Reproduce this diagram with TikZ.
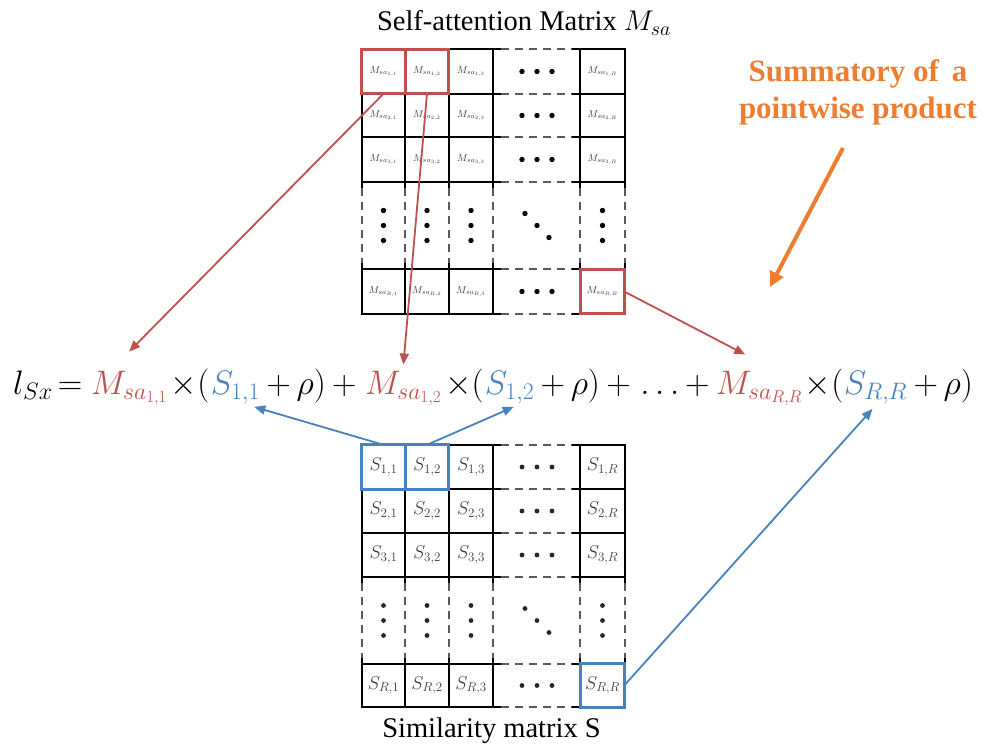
\RequirePackage{fix-cm}
\documentclass[tikz,border=0pt]{standalone}
\usepackage{fontspec}
\setmainfont{Liberation Serif}
\usetikzlibrary{arrows.meta}
\definecolor{mred}{RGB}{192,80,77}
\definecolor{mblue}{RGB}{70,130,190}
\definecolor{morange}{RGB}{237,125,49}
\definecolor{celltxt}{RGB}{60,60,60}
\tikzset{
  gsolid/.style={line width=2pt, draw=black},
  gdash/.style={line width=1.2pt, draw=black!65, dash pattern=on 8pt off 6pt},
  tcell/.style={inner sep=0pt, minimum width=43pt, minimum height=44pt, text=celltxt, font=\fontsize{10}{11}\selectfont},
  scell/.style={inner sep=0pt, minimum width=43pt, minimum height=44pt, text=celltxt, font=\fontsize{18.5}{20}\selectfont},
  eq/.style={anchor=base west, inner sep=0pt, font=\fontsize{34}{38}\selectfont},
  rarrow/.style={draw=mred, line width=1.8pt, -{Triangle[length=11pt,width=9pt]}},
  barrow/.style={draw=mblue, line width=1.8pt, -{Triangle[length=11pt,width=9pt]}},
  oarrow/.style={draw=morange, line width=4pt, -{Triangle[length=15pt,width=14pt]}},
  rbox/.style={draw=mred, line width=3pt},
  bbox/.style={draw=mblue, line width=3pt},
  titletext/.style={anchor=base, inner sep=0pt, font=\fontsize{28.5}{31}\selectfont},
}
\newcommand{\matgrid}[6]{%
  \foreach \yy in {#1,#2,#3,#4,#5,#6}{%
    \draw[gsolid] (361,\yy) -- (501,\yy);
    \draw[gdash] (501,\yy) -- (572,\yy);
    \draw[gsolid] (572,\yy) -- (626,\yy);
  }%
  \foreach \xx in {362,405,449,493,580,625}{%
    \draw[gsolid] (\xx,#1) -- (\xx,#4+6);
    \draw[gdash] (\xx,#4+6) -- (\xx,#5-6);
    \draw[gsolid] (\xx,#5-6) -- (\xx,#6);
  }%
}
\newcommand{\matdots}[6]{% rows r1 r2 r3 rD rR, radius
  \foreach \yy in {#1,#2,#3,#5}{%
    \foreach \xx in {522,537,552}{\fill (\xx,\yy) circle (#6);}
  }%
  \foreach \xx in {383.5,427,471,602.5}{%
    \foreach \dd in {-15,0,15}{\fill (\xx,#4+\dd) circle (#6);}
  }%
  \foreach \dd in {-12,0,12}{\fill (537+\dd,#4+\dd) circle (#6);}
}
\begin{document}
\begin{tikzpicture}[x=1pt,y=-1pt]
\fill[white] (0,0) rectangle (986,749);
\useasboundingbox (0,0) rectangle (986,749);

% ---------- titles ----------
\node[titletext] (ttop) at (524,31) {Self-attention Matrix $M_{sa}$};
\node[titletext] (tbot) at (491.5,737) {Similarity matrix S};
\node[inner sep=0pt, align=center, text=morange, font=\bfseries\fontsize{31}{37}\selectfont] (osum) at (858,92) {Summatory of\, a\\pointwise product};

% ---------- top matrix ----------
\matgrid{49}{94}{137}{182}{269}{314}
\matdots{71.5}{115.5}{159.5}{225.5}{291.5}{2.7pt}
\foreach \i/\ry in {1/71.5,2/115.5,3/159.5,R/291.5}{%
  \foreach \j/\cx in {1/383.5,2/427,3/471,R/602.5}{%
    \node[tcell] (t\i\j) at (\cx,\ry) {$M_{sa_{\i,\j}}$};
  }
}
\draw[rbox] (t11.south west) rectangle (t11.north east);
\draw[rbox] (t12.south west) rectangle (t12.north east);
\draw[rbox] (tRR.south west) rectangle (tRR.north east);

% ---------- bottom matrix ----------
\matgrid{445}{489}{533}{577}{664}{707}
\begin{scope}[black!85]
\matdots{467}{511}{555}{620.5}{685.5}{2.4pt}
\end{scope}
\foreach \i/\ry in {1/467,2/511,3/555,R/685.5}{%
  \foreach \j/\cx in {1/383.5,2/427,3/471,R/602.5}{%
    \node[scell] (s\i\j) at (\cx,\ry) {$S_{\i,\j}$};
  }
}
\draw[bbox] (s11.south west) rectangle (s11.north east);
\draw[bbox] (s12.south west) rectangle (s12.north east);
\draw[bbox] (sRR.south west) rectangle (sRR.north east);

% ---------- equation (chained) ----------
\node[eq] (e0) at (13,394) {$l_{Sx}$};
\node[eq] (eeq) at ([xshift=5pt]e0.base east) {$=$};
\node[eq, text=mred] (eM11) at ([xshift=8pt]eeq.base east) {$M_{sa_{1,1}}$};
\node[eq] (ex1) at ([xshift=3pt]eM11.base east) {$\times($};
\node[eq, text=mblue] (eS11) at ([xshift=1pt]ex1.base east) {$S_{1,1}$};
\node[eq] (ep1) at ([xshift=6pt]eS11.base east) {$+\,\rho)$};
\node[eq] (eplus1) at ([xshift=6pt]ep1.base east) {$+$};
\node[eq, text=mred] (eM12) at ([xshift=8pt]eplus1.base east) {$M_{sa_{1,2}}$};
\node[eq] (ex2) at ([xshift=3pt]eM12.base east) {$\times($};
\node[eq, text=mblue] (eS12) at ([xshift=1pt]ex2.base east) {$S_{1,2}$};
\node[eq] (ep2) at ([xshift=6pt]eS12.base east) {$+\,\rho)$};
\node[eq] (eplus2) at ([xshift=6pt]ep2.base east) {$+$};
\node[eq] (edots) at ([xshift=9pt]eplus2.base east) {$\ldots{+}$};
\node[eq, text=mred] (eMRR) at ([xshift=6pt]edots.base east) {$M_{sa_{R,R}}$};
\node[eq] (ex3) at ([xshift=2pt]eMRR.base east) {$\times($};
\node[eq, text=mblue] (eSRR) at ([xshift=0pt]ex3.base east) {$S_{R,R}$};
\node[eq] (ep3) at ([xshift=6pt]eSRR.base east) {$+\,\rho)$};

% ---------- connectors ----------
\draw[rarrow] (t11.south) -- ([yshift=19pt]eM11.north);
\draw[rarrow] (t12.south) -- ([yshift=6pt]eM12.north);
\draw[rarrow] (tRR.east) -- ([xshift=-14pt,yshift=16pt]eMRR.north);
\draw[barrow] (s11.north) -- ([xshift=-6pt,yshift=-3pt]eS11.south east);
\draw[barrow] (s12.north) -- ([xshift=4pt,yshift=-3pt]eS12.south);
\draw[barrow] (sRR.east) -- ([xshift=-3pt,yshift=-5pt]eSRR.south);
\coordinate (otip) at (770,287);
\draw[oarrow] ([xshift=-15pt,yshift=-23pt]osum.south) -- (otip);
\end{tikzpicture}
\end{document}
